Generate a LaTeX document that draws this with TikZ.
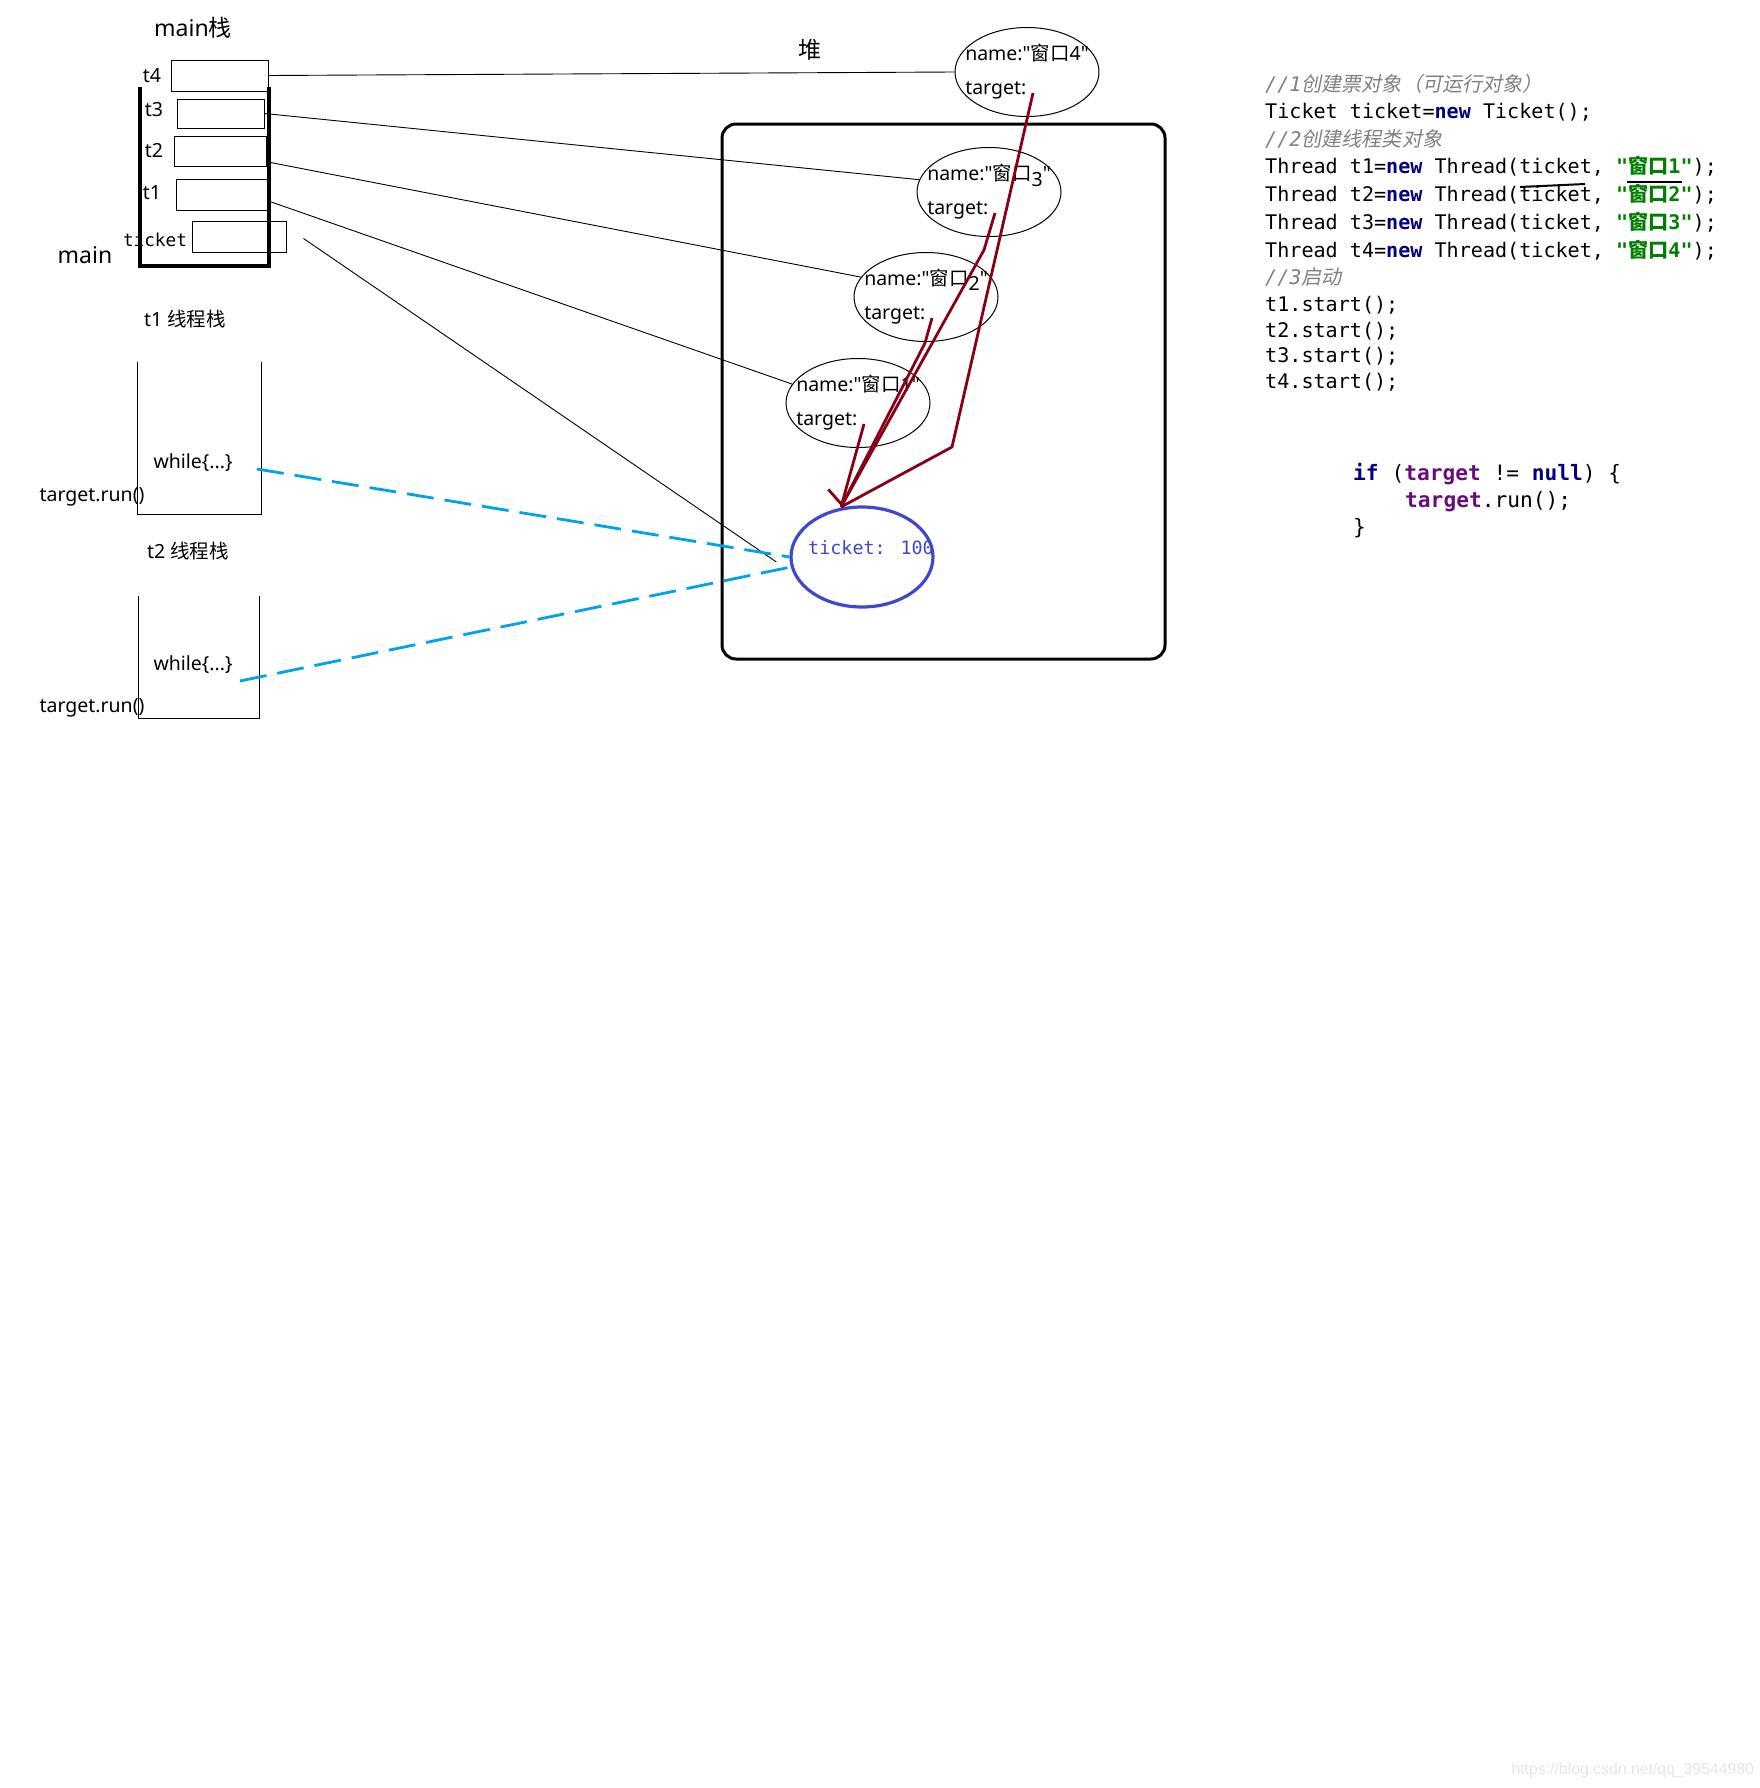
\documentclass[tikz,border=0pt]{standalone}
\usepackage{fontspec}
\setmainfont{Noto Sans}[Ligatures=TeXOff]
\newfontfamily\cjk{Noto Sans CJK SC}
\newfontfamily\cjkslant[FakeSlant=0.2]{Noto Sans CJK SC}
\newfontfamily\codefont[Ligatures=TeXOff]{DejaVu Sans Mono}
\newfontfamily\webfont{Liberation Sans}
\usetikzlibrary{arrows.meta,positioning,shapes.geometric}
\definecolor{inkred}{HTML}{880015}
\definecolor{inkblue}{HTML}{00A2E8}
\definecolor{objblue}{HTML}{3F48CC}
\definecolor{kwnavy}{HTML}{000080}
\definecolor{strgreen}{HTML}{008000}
\definecolor{cmtgray}{HTML}{808080}
\definecolor{fieldpurple}{HTML}{660E7A}
\newcommand\kw[1]{{\bfseries\color{kwnavy}#1}}
\newcommand\strlit[1]{{\bfseries\color{strgreen}#1}}
\newcommand\fld[1]{{\bfseries\color{fieldpurple}#1}}
\newcommand\dq{\symbol{34}}

\begin{document}
\begin{tikzpicture}[x=1pt, y=-1pt,
  font=\fontsize{19.5}{23}\selectfont,
  cell/.style={draw, line width=1pt, inner sep=0pt},
  wall/.style={line width=3.5pt},
  heapbox/.style={line width=3pt, rounded corners=14pt},
  obj/.style={ellipse, draw, line width=1pt, inner xsep=-20pt, inner ysep=0pt,
    minimum width=144pt, minimum height=89pt, align=left,
    font=\fontsize{19.5}{34}\selectfont},
  ref/.style={line width=0.9pt},
  pointer/.style={line width=2.8pt, draw=inkred, line join=round},
  runline/.style={line width=2.8pt, draw=inkblue, dash pattern=on 27pt off 11pt},
  stackline/.style={line width=1pt},
  codeline/.style={anchor=base west, inner sep=0pt, font=\codefont\fontsize{20.1}{24}\selectfont},
  bigcode/.style={anchor=base west, inner sep=0pt, font=\codefont\fontsize{21.2}{26}\selectfont}
]
\fill[white] (0,0) rectangle (1760,1788);
\useasboundingbox (0,0) rectangle (1760,1788);

% main stack
\node[font=\fontsize{23}{27}\selectfont] (mainlbl) at (193,28) {main{\cjk 栈}};
\node[font=\fontsize{23}{27}\selectfont] (mainname) at (85,255) {main};
\draw[wall] (140,87) |- (269,266) -- (269,87);
\node[cell, minimum width=97pt, minimum height=31pt] (t4box) at (219.5,75.5) {};
\node[cell, minimum width=87pt, minimum height=29pt] (t3box) at (220.5,113.5) {};
\node[cell, minimum width=92pt, minimum height=30pt] (t2box) at (220,151) {};
\node[cell, minimum width=92pt, minimum height=31pt] (t1box) at (222,194.5) {};
\node[cell, minimum width=94pt, minimum height=31pt] (tkbox) at (239,236.5) {};
\node (t4lbl) at (152,76) {t4};
\node (t3lbl) at (154,110) {t3};
\node (t2lbl) at (154,151) {t2};
\node (t1lbl) at (152,193) {t1};
\node[font=\codefont\fontsize{17.7}{20}\selectfont] (tklbl) at (155,240) {ticket};

% thread stacks
\node (t1head) at (185,319) {t1 {\cjk 线程栈}};
\draw[stackline] (137,362) |- (261,514) -- (261,362);
\node (t1loop) at (193,463) {while\{...\}};
\node (t1run) at (92,497) {target.run()};
\node (t2head) at (188,551) {t2 {\cjk 线程栈}};
\draw[stackline] (138,596) |- (259,718) -- (259,596);
\node (t2loop) at (193,665) {while\{...\}};
\node (t2run) at (92,708) {target.run()};

% heap
\draw[heapbox] (722,124) rectangle (1165,659);
\node[font=\cjk\fontsize{23}{27}\selectfont] (heaplbl) at (810,50) {堆};
\node[obj] (win4) at (1027,72) {name:\dq{\cjk 窗口}4\dq\\target:};
\node[obj] (win3) at (989,192) {name:\dq{\cjk 窗口}\raisebox{-6pt}[0pt][0pt]{3}\dq\\target:};
\node[obj] (win2) at (926,297) {name:\dq{\cjk 窗口}\raisebox{-5pt}[0pt][0pt]{2}\dq\\target:};
\node[obj] (win1) at (858,403) {name:\dq{\cjk 窗口}1\dq\\target:};
\node[ellipse, draw=objblue, line width=3.2pt, inner sep=0pt, minimum width=142pt,
  minimum height=100pt] (tk) at (862,557) {};
\node[text=objblue, font=\codefont\fontsize{18.4}{22}\selectfont] (tkval) at (871,548) {ticket: 100};

% references from main
\draw[ref] (t4box.east) -- (win4.west);
\draw[ref] (t3box.east) -- (win3.170);
\draw[ref] (t2box.-13) -- (win2.163);
\draw[ref] (t1box.-8) -- (win1.164);
\draw[ref] ([shift={(17,2)}]tkbox.east) -- ([shift={(-13,5)}]tk.west);

% target fields
\foreach \w in {win1,win2,win3,win4}
  \coordinate (\w tgt) at ([shift={(6,21)}]\w.center);
\coordinate (tip) at (841,507);
\draw[pointer, -{Straight Barb[right, length=11pt, width=34pt]}] (win1tgt) -- (tip);
\draw[pointer] (win2tgt) -- (925,343) -- (tip);
\draw[pointer] (win3tgt) -- (984,250) -- (tip);
\draw[pointer] (win4tgt) -- (952,447) -- (tip);

% run() calls
\coordinate (run1) at (257,469);
\coordinate (run2) at (240,681);
\draw[runline] (run1) -- (tk.west);
\draw[runline] (run2) -- (tk.188);

% code
\node[codeline, text=cmtgray] (c1) at (1265,91) {\itshape//1{\cjkslant 创建票对象（可运行对象）}};
\node[codeline] (c2) at (1265,118) {Ticket ticket=\kw{new} Ticket();};
\node[codeline, text=cmtgray] (c3) at (1265,146) {\itshape//2{\cjkslant 创建线程类对象}};
\foreach \n in {1,...,4}
  \node[codeline] (thr\n) at (1265,{145+28*\n}) {Thread t\n=\kw{new} Thread(ticket, \strlit{"{\cjk 窗口}\n"});};
\node[codeline, text=cmtgray] (c8) at (1265,284) {\itshape//3{\cjkslant 启动}};
\foreach \n in {1,...,4}
  \node[codeline] (start\n) at (1265,{286+25.5*\n}) {t\n.start();};
\draw[line width=2pt] (1627,182) -- (1682,182);
\draw[line width=2pt] (1520,187) -- (1585,184);

\node[bigcode] (if1) at (1353,480) {\kw{if} (\fld{target} != \kw{null}) \{};
\node[bigcode] (if2) at (1405,507) {\fld{target}.run();};
\node[bigcode] (if3) at (1353,534) {\}};

\node[anchor=west, text=black!10, font=\webfont\fontsize{15.8}{18}\selectfont] (wm) at (1508,1770) {https://blog.csdn.net/qq\_39544980};
\end{tikzpicture}
\end{document}
